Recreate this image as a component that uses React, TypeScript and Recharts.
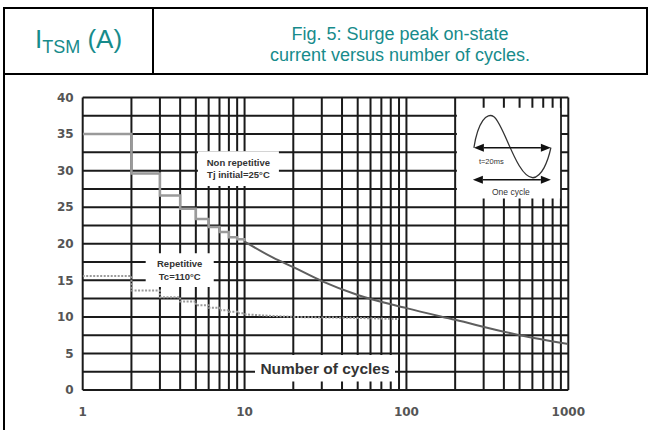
import React from 'react';
import { LineChart, Line, XAxis, YAxis, CartesianGrid, ReferenceArea } from 'recharts';

// cycles where the grid has vertical lines, and which of them get a label
const cycleTicks = [
  1, 2, 3, 4, 5, 6, 7, 8, 9, 10, 20, 30, 40, 50, 60, 70, 80, 90, 100,
  200, 300, 400, 500, 600, 700, 800, 900, 1000,
];
const cycleLabels = [1, 10, 100, 1000];

const currentTicks = [0, 2.5, 5, 7.5, 10, 12.5, 15, 17.5, 20, 22.5, 25, 27.5, 30, 32.5, 35, 37.5, 40];
const currentLabels = [0, 5, 10, 15, 20, 25, 30, 35, 40];

// non repetitive, Tj initial = 25°C (steps up to 10 cycles, then a curve)
const stepCycles = [1, 2, 3, 4, 5, 6, 7, 8, 9, 10];
const nonRepSteps = [35, 29.6, 26.6, 24.8, 23.4, 22.3, 21.6, 20.9, 20.6, 20.3];
const nonRepCycles = [10, 15, 20, 30, 50, 100, 200, 500, 1000];
const nonRepCurve = [20.3, 18.1, 16.8, 14.9, 13.0, 11.2, 9.6, 7.5, 6.3];

// repetitive, Tc = 110°C
const repSteps = [15.6, 13.6, 12.7, 12.1, 11.6, 11.25, 10.9, 10.7, 10.5, 10.35];
const repCycles = [10, 20, 50, 90];
const repCurve = [10.35, 10.0, 9.85, 9.7];

const zip = (xs: number[], ys: number[]) => xs.map((n, i) => ({ n, v: ys[i] }));

const nonRepStepData = zip(stepCycles, nonRepSteps);
const nonRepCurveData = zip(nonRepCycles, nonRepCurve);
const repStepData = zip(stepCycles, repSteps);
const repCurveData = zip(repCycles, repCurve);

const FONT = '"Liberation Sans", Arial, sans-serif';
const TICK_FONT = '"DejaVu Sans", sans-serif';
const TEAL = '#178b8b';

function BoxText({ viewBox, lines, size, weight }: any) {
  if (!viewBox) return null;
  const cx = viewBox.x + viewBox.width / 2;
  const cy = viewBox.y + viewBox.height / 2;
  const lh = size * 1.3;
  const y0 = cy - ((lines.length - 1) * lh) / 2;
  return (
    <text x={cx} y={y0} textAnchor="middle" fontFamily={FONT} fontSize={size} fontWeight={weight} fill="#333">
      {lines.map((l: string, i: number) => (
        <tspan key={i} x={cx} y={y0 + i * lh} dy="0.35em">
          {l}
        </tspan>
      ))}
    </text>
  );
}

function Arrow({ x1, x2, y }: { x1: number; x2: number; y: number }) {
  const h = 10;
  const w = 4;
  return (
    <g>
      <line x1={x1 + h} x2={x2 - h} y1={y} y2={y} stroke="#111" strokeWidth={1.6} />
      <polygon points={`${x1},${y} ${x1 + h},${y - w} ${x1 + h},${y + w}`} fill="#111" />
      <polygon points={`${x2},${y} ${x2 - h},${y - w} ${x2 - h},${y + w}`} fill="#111" />
    </g>
  );
}

function CycleInset({ viewBox }: any) {
  if (!viewBox) return null;
  const { x, y } = viewBox;
  return (
    <g transform={`translate(${x},${y})`}>
      <path
        d="M17,40 C21,14 30,4 37,9 C47,16 60,70 76,70 C85,69 91,54 94,40"
        fill="none"
        stroke="#333"
        strokeWidth={1.3}
      />
      <Arrow x1={17} x2={94} y={40} />
      <Arrow x1={16} x2={94} y={72} />
      <text x={22} y={56} fontFamily={FONT} fontSize={7.5} fill="#333">t=20ms</text>
      <text x={54} y={87} textAnchor="middle" fontFamily={FONT} fontSize={8.5} fill="#333">One cycle</text>
    </g>
  );
}

export default function App() {
  return (
    <div style={{ position: 'absolute', left: 0, top: 0, width: 648, height: 430, background: '#fff', fontFamily: FONT }}>
      {/* header frame */}
      <div style={{ position: 'absolute', left: 3, top: 7, width: 645, height: 68, border: '2px solid #000', boxSizing: 'border-box' }} />
      <div style={{ position: 'absolute', left: 152, top: 7, width: 2, height: 68, background: '#000' }} />
      <div style={{ position: 'absolute', left: 3, top: 74, width: 2, height: 356, background: '#000' }} />
      <div style={{ position: 'absolute', left: 5, top: 9, width: 147, height: 64, display: 'flex', alignItems: 'center', justifyContent: 'center', color: TEAL, fontSize: 26 }}>
        <span>
          I<sub style={{ fontSize: 18, verticalAlign: '-0.25em' }}>TSM</sub> (A)
        </span>
      </div>
      <div style={{ position: 'absolute', left: 154, top: 13, width: 492, height: 64, display: 'flex', alignItems: 'center', justifyContent: 'center', textAlign: 'center', color: TEAL, fontSize: 18, lineHeight: '21px' }}>
        <span>
          Fig. 5: Surge peak on-state
          <br />
          current versus number of cycles.
        </span>
      </div>

      <div style={{ position: 'absolute', left: 0, top: 0 }}>
        <LineChart width={648} height={430} margin={{ top: 97.5, right: 79.7, bottom: 10, left: 22.7 }}>
          <CartesianGrid stroke="#1a1a1a" strokeWidth={2} />
          <XAxis
            dataKey="n"
            type="number"
            scale="log"
            domain={[1, 1000]}
            ticks={cycleTicks}
            interval={0}
            allowDataOverflow
            axisLine={false}
            tickLine={false}
            height={30}
            tickMargin={11}
            tickFormatter={(v: number) => (cycleLabels.includes(v) ? String(v) : '')}
            tick={{ fontFamily: TICK_FONT, fontSize: 12, fontWeight: 'bold', fill: '#555' }}
          />
          <YAxis
            type="number"
            domain={[0, 40]}
            ticks={currentTicks}
            interval={0}
            axisLine={false}
            tickLine={false}
            width={60}
            tickMargin={3}
            tickFormatter={(v: number) => (currentLabels.includes(v) ? String(v) : '')}
            tick={{ fontFamily: TICK_FONT, fontSize: 12, fontWeight: 'bold', fill: '#555' }}
          />
          <ReferenceArea
            x1={5.15}
            x2={16.3}
            y1={27.9}
            y2={32.65}
            fill="#fff"
            fillOpacity={1}
            stroke="none"
            label={(p: any) => <BoxText viewBox={p.viewBox} lines={['Non repetitive', 'Tj initial=25°C']} size={9.5} weight="bold" />}
          />
          <ReferenceArea
            x1={2.45}
            x2={6.45}
            y1={14.1}
            y2={18.7}
            fill="#fff"
            fillOpacity={1}
            stroke="none"
            label={(p: any) => <BoxText viewBox={p.viewBox} lines={['Repetitive', 'Tc=110°C']} size={9.5} weight="bold" />}
          />
          <ReferenceArea
            x1={11.6}
            x2={85}
            y1={1.15}
            y2={4.8}
            fill="#fff"
            fillOpacity={1}
            stroke="none"
            label={(p: any) => <BoxText viewBox={p.viewBox} lines={['Number of cycles']} size={15.5} weight="bold" />}
          />
          <ReferenceArea
            x1={205}
            x2={890}
            y1={26.2}
            y2={38.6}
            fill="#fff"
            fillOpacity={1}
            stroke="none"
            label={(p: any) => <CycleInset viewBox={p.viewBox} />}
          />
          <Line data={nonRepStepData} dataKey="v" type="stepAfter" stroke="#9a9a9a" strokeWidth={2.5} dot={false} isAnimationActive={false} />
          <Line data={nonRepCurveData} dataKey="v" type="monotone" stroke="#5e5e5e" strokeWidth={2} dot={false} isAnimationActive={false} />
          <Line data={repStepData} dataKey="v" type="stepAfter" stroke="#9a9a9a" strokeWidth={2} strokeDasharray="2 1.5" dot={false} isAnimationActive={false} />
          <Line data={repCurveData} dataKey="v" type="monotone" stroke="#9a9a9a" strokeWidth={2} strokeDasharray="2 1.5" dot={false} isAnimationActive={false} />
        </LineChart>
      </div>
    </div>
  );
}
